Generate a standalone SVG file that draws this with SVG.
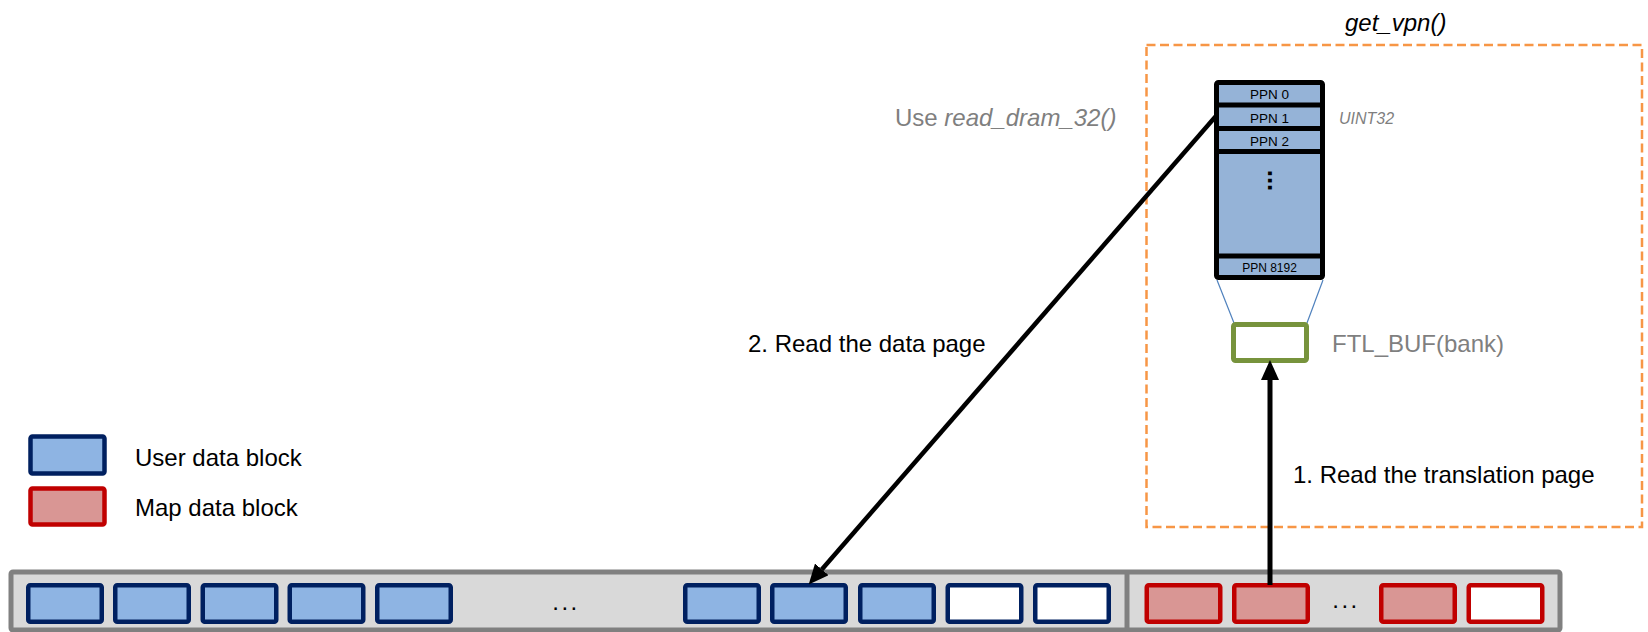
<svg xmlns="http://www.w3.org/2000/svg" width="1648" height="632" viewBox="0 0 1648 632">
  <style>
    text { font-family: "Liberation Sans", Arial, sans-serif; }
    .lbl { font-size: 24px; fill: #000; }
    .grey { font-size: 24px; fill: #7F7F7F; }
    .ppn { font-size: 13.5px; fill: #000; text-anchor: middle; }
    .user { fill: #8EB4E3; stroke: #002060; stroke-width: 4.5; }
    .user-free { fill: #FFFFFF; stroke: #002060; stroke-width: 4.5; }
    .map { fill: #D99694; stroke: #C00000; stroke-width: 4.5; }
    .map-free { fill: #FFFFFF; stroke: #C00000; stroke-width: 4.5; }
    .conn { stroke: #000; fill: none; }
  </style>
  <defs>
    <marker id="arrow" viewBox="0 0 20 18" refX="0" refY="9" markerWidth="20" markerHeight="18" markerUnits="userSpaceOnUse" orient="auto">
      <path d="M0,0 L20,9 L0,18 z" fill="#000"/>
    </marker>
  </defs>

  <rect width="1648" height="632" fill="#FFFFFF"/>

  <!-- get_vpn() scope -->
  <g id="get-vpn">
    <rect x="1146.5" y="45" width="495.5" height="482" fill="none" stroke="#F79646" stroke-width="2.5" stroke-dasharray="9 4.5"/>
    <text class="lbl" x="1345" y="31" font-style="italic">get_vpn()</text>
  </g>

  <!-- legend -->
  <g id="legend-user">
    <rect x="30.5" y="436.5" width="74" height="37" rx="2" class="user" stroke-width="5"/>
    <text class="lbl" x="135" y="466">User data block</text>
  </g>
  <g id="legend-map">
    <rect x="30.5" y="488.5" width="74" height="36" rx="2" class="map" stroke-width="5"/>
    <text class="lbl" x="135" y="516">Map data block</text>
  </g>

  <!-- mapping table in DRAM -->
  <g id="ppn-table">
    <rect x="1216.5" y="82.5" width="106" height="195" rx="2" fill="#95B3D7" stroke="#000" stroke-width="5"/>
    <g stroke="#000" stroke-width="5">
      <line x1="1216.5" y1="105" x2="1322.5" y2="105"/>
      <line x1="1216.5" y1="128.5" x2="1322.5" y2="128.5"/>
      <line x1="1216.5" y1="151.5" x2="1322.5" y2="151.5"/>
      <line x1="1216.5" y1="256" x2="1322.5" y2="256"/>
    </g>
    <text class="ppn" x="1269.5" y="99">PPN 0</text>
    <text class="ppn" x="1269.5" y="122.5">PPN 1</text>
    <text class="ppn" x="1269.5" y="145.5">PPN 2</text>
    <text x="0" y="0" transform="translate(1267.5,180.5) rotate(90)" font-size="26" font-weight="bold" text-anchor="middle">...</text>
    <text class="ppn" x="1269.5" y="272" style="font-size:12px">PPN 8192</text>
  </g>
  <text id="uint32" x="1339" y="124" font-size="16" font-style="italic" fill="#7F7F7F">UINT32</text>
  <text id="use-read" class="grey" x="895" y="126">Use <tspan font-style="italic">read_dram_32()</tspan></text>

  <!-- FTL buffer -->
  <g id="ftl-buf">
    <line x1="1217" y1="280" x2="1234" y2="323" stroke="#4F81BD" stroke-width="1.2"/>
    <line x1="1323" y1="280" x2="1307" y2="323" stroke="#4F81BD" stroke-width="1.2"/>
    <rect x="1233.5" y="324.5" width="73" height="36" rx="2" fill="#FFFFFF" stroke="#77933C" stroke-width="5"/>
    <text class="grey" x="1332" y="352">FTL_BUF(bank)</text>
  </g>

  <!-- flash blocks -->
  <g id="flash">
    <rect x="11" y="572" width="1549" height="58" rx="2" fill="#D9D9D9" stroke="#808080" stroke-width="5"/>
    <line x1="1127" y1="572" x2="1127" y2="630" stroke="#808080" stroke-width="5"/>
  </g>
  <g id="user-blocks">
    <rect x="28.25" y="585.25" width="73.5" height="36.5" rx="2" class="user"/>
    <rect x="115.25" y="585.25" width="73.5" height="36.5" rx="2" class="user"/>
    <rect x="202.75" y="585.25" width="73.5" height="36.5" rx="2" class="user"/>
    <rect x="289.75" y="585.25" width="73.5" height="36.5" rx="2" class="user"/>
    <rect x="377.25" y="585.25" width="73.5" height="36.5" rx="2" class="user"/>
    <text x="566" y="610" font-size="24" letter-spacing="2.5" text-anchor="middle">...</text>
    <rect x="685.25" y="585.25" width="73.5" height="36.5" rx="2" class="user"/>
    <rect x="772.25" y="585.25" width="73.5" height="36.5" rx="2" class="user"/>
    <rect x="860.25" y="585.25" width="73.5" height="36.5" rx="2" class="user"/>
    <rect x="947.75" y="585.25" width="73.5" height="36.5" rx="2" class="user-free"/>
    <rect x="1035.25" y="585.25" width="73.5" height="36.5" rx="2" class="user-free"/>
  </g>
  <g id="map-blocks">
    <rect x="1146.75" y="585.25" width="73.5" height="36.5" rx="2" class="map"/>
    <rect x="1234.25" y="585.25" width="73.5" height="36.5" rx="2" class="map"/>
    <text x="1346" y="608" font-size="24" letter-spacing="2.5" text-anchor="middle">...</text>
    <rect x="1381.25" y="585.25" width="73.5" height="36.5" rx="2" class="map"/>
    <rect x="1468.75" y="585.25" width="73.5" height="36.5" rx="2" class="map-free"/>
  </g>

  <!-- connectors -->
  <g id="connectors">
    <line class="conn" x1="1270" y1="585" x2="1270" y2="380" stroke-width="5" marker-end="url(#arrow)"/>
    <line class="conn" x1="1216" y1="116" x2="821.8" y2="569.4" stroke-width="4.5" marker-end="url(#arrow)"/>
  </g>
  <text id="step1" class="lbl" x="1293" y="483">1. Read the translation page</text>
  <text id="step2" class="lbl" x="748" y="352">2. Read the data page</text>
</svg>
